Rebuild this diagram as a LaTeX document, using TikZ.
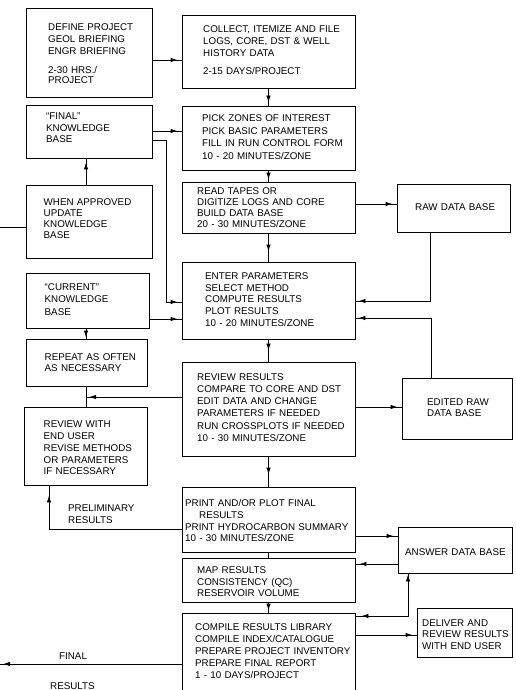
\documentclass[tikz,border=0pt]{standalone}
\usepackage{fontspec}
\setmainfont{Liberation Sans}
\usetikzlibrary{arrows.meta,decorations.markings}
\tikzset{
 box/.style={draw, line width=0.9pt, inner sep=0pt, rectangle},
 txt/.style={font=\fontsize{9.8}{#1}\selectfont, anchor=base west, inner sep=0pt, align=left, text width=200pt},
 txt/.default=12pt,
 con/.style={line width=0.9pt},
 tipat/.style={postaction={decorate}, decoration={markings, mark=at position #1 with {\arrow{Latex[length=7pt,width=4.5pt]}}}},
 tipat/.default=-4pt,
 tiptwo/.style={postaction={decorate}, decoration={markings,
   mark=at position 6pt with {\arrowreversed{Latex[length=7pt,width=4.5pt]}},
   mark=at position -1pt with {\arrow{Latex[length=7pt,width=4.5pt]}}}},
}
\begin{document}
\begin{tikzpicture}[x=1pt,y=-1pt]
\fill[white] (0,0) rectangle (516,690);
\useasboundingbox (0,0) rectangle (516,690);

% boxes
\node[box, minimum width=126pt, minimum height=89pt] (def) at (89,52.5) {};
\node[box, minimum width=173pt, minimum height=73pt] (col) at (268.5,51.5) {};
\node[box, minimum width=126pt, minimum height=53pt] (fkb) at (89,131.5) {};
\node[box, minimum width=173pt, minimum height=64pt] (pick) at (268.5,138) {};
\node[box, minimum width=126pt, minimum height=73pt] (appr) at (89,221.5) {};
\node[box, minimum width=173pt, minimum height=51pt] (read) at (268.5,207.5) {};
\node[box, minimum width=113pt, minimum height=48pt] (raw) at (453.5,208) {};
\node[box, minimum width=123pt, minimum height=55pt] (ckb) at (87.5,300.5) {};
\node[box, minimum width=173pt, minimum height=77pt] (enter) at (268.5,300.5) {};
\node[box, minimum width=121pt, minimum height=47pt] (rep) at (86.5,362.5) {};
\node[box, minimum width=173pt, minimum height=94pt] (rev) at (268.5,409) {};
\node[box, minimum width=110pt, minimum height=61pt] (edited) at (457,408.5) {};
\node[box, minimum width=123pt, minimum height=78pt] (reu) at (85.5,446) {};
\node[box, minimum width=173pt, minimum height=65pt] (print) at (268.5,519.5) {};
\node[box, minimum width=173pt, minimum height=44pt] (map) at (268.5,580) {};
\node[box, minimum width=114pt, minimum height=46pt] (ans) at (455,550) {};
\node[box, minimum width=173pt, minimum height=97pt] (comp) at (268.5,661.5) {};
\node[box, minimum width=95pt, minimum height=49pt] (del) at (464.5,632.5) {};

% texts
\node[txt] (tdef) at (48,31) {DEFINE PROJECT\\GEOL BRIEFING\\ENGR BRIEFING\\[7pt]2-30 HRS./\\[-2pt]PROJECT};
\node[txt] (tcol) at (203,32.5) {COLLECT, ITEMIZE AND FILE\\LOGS, CORE, DST \& WELL\\HISTORY DATA\\[6pt]2-15 DAYS/PROJECT};
\node[txt=11.3pt] (tfkb) at (46,120) {“FINAL”\\KNOWLEDGE\\BASE};
\node[txt=12.5pt] (tpick) at (202,121.6) {PICK ZONES OF INTEREST\\PICK BASIC PARAMETERS\\FILL IN RUN CONTROL FORM\\10 - 20 MINUTES/ZONE};
\node[txt=11.1pt] (tappr) at (43.5,205) {WHEN APPROVED\\UPDATE\\KNOWLEDGE\\BASE};
\node[txt=11.1pt] (tread) at (197,194) {READ TAPES OR\\DIGITIZE LOGS AND CORE\\BUILD DATA BASE\\20 - 30 MINUTES/ZONE};
\node[txt] (traw) at (415,210) {RAW DATA BASE};
\node[txt=11.7pt] (tenter) at (205,279.3) {ENTER PARAMETERS\\SELECT METHOD\\COMPUTE RESULTS\\PLOT RESULTS\\10 - 20 MINUTES/ZONE};
\node[txt=12.7pt] (tckb) at (44.5,290) {“CURRENT”\\KNOWLEDGE\\BASE};
\node[txt=11.6pt] (trep) at (44.5,360) {REPEAT AS OFTEN\\AS NECESSARY};
\node[txt=12.1pt] (trev) at (197,380.6) {REVIEW RESULTS\\COMPARE TO CORE AND DST\\EDIT DATA AND CHANGE\\PARAMETERS IF NEEDED\\RUN CROSSPLOTS IF NEEDED\\10 - 30 MINUTES/ZONE};
\node[txt=11.6pt] (tedit) at (427,405) {EDITED RAW\\DATA BASE};
\node[txt=11.8pt] (treu) at (43.5,427.6) {REVIEW WITH\\END USER\\REVISE METHODS\\OR PARAMETERS\\IF NECESSARY};
\node[txt=11.7pt] (tprint) at (185,506.6) {PRINT AND/OR PLOT FINAL\\\hspace*{14pt}RESULTS\\PRINT HYDROCARBON SUMMARY\\10 - 30 MINUTES/ZONE};
\node[txt=11.7pt] (tmap) at (197,573.3) {MAP RESULTS\\CONSISTENCY (QC)\\RESERVOIR VOLUME};
\node[txt] (tans) at (405,555) {ANSWER DATA BASE};
\node[txt=12pt] (tcomp) at (195,630) {COMPILE RESULTS LIBRARY\\COMPILE INDEX/CATALOGUE\\PREPARE PROJECT INVENTORY\\PREPARE FINAL REPORT\\1 - 10 DAYS/PROJECT};
\node[txt=11.2pt] (tdel) at (422,626.6) {DELIVER AND\\REVIEW RESULTS\\WITH END USER};
\node[txt=11.7pt] (tprel) at (68,511.5) {PRELIMINARY\\RESULTS};
\node[txt] (tfin1) at (59,659) {FINAL};
\node[txt] (tfin2) at (50,689) {RESULTS};

% free ends
\coordinate (lft) at (0,227);
\coordinate (fin) at (0,664);
\coordinate (j1) at (86,397);

% connectors
\draw[con,tipat] (def.east |- 0,60) -- (col.west |- 0,60);
\draw[con,tipat] (fkb.east |- 0,131) -- (pick.west |- 0,131);
\draw[con,tipat=-3pt] (col.south) -- (pick.north);
\draw[con,tipat=-2pt] (pick.south) -- (read.north);
\draw[con,tipat] (read.east |- 0,204) -- (raw.west |- 0,204);
\draw[con,tipat=-10pt] (read.south) -- (enter.north);
\draw[con,tipat=-3pt] (raw.south -| 430,0) |- (enter.east |- 0,301);
\draw[con,tipat=-3pt] (edited.north -| 431,0) |- (enter.east |- 0,318);
\draw[con,tipat=-11pt] (enter.south) -- (rev.north);
\draw[con,tipat] (rev.east |- 0,407) -- (edited.west |- 0,407);
\draw[con,tipat] (fkb.east |- 0,140) -| (166,302) -- (enter.west |- 0,302);
\draw[con,tipat] (ckb.east |- 0,319) -- (enter.west |- 0,319);
\draw[con,tipat=-1pt] (ckb.south -| 86,0) -- (rep.north -| 86,0);
\draw[con] (rep.south -| 86,0) -- (reu.north -| 86,0);
\draw[con,tipat=-3pt] (rev.west |- j1) -- (j1);
\draw[con,tipat=-4pt] (appr.north -| 86,0) -- (fkb.south -| 86,0);
\draw[con] (appr.west |- lft) -- (lft);
\draw[con,tipat=-10pt] (print.west |- 0,529) -| (reu.south -| 49,0);
\draw[con,tipat] (print.east |- 0,536) -- (ans.west |- 0,536);
\draw[con,tipat] (ans.west |- 0,564) -- (map.east |- 0,564);
\draw[con] (print.south) -- (map.north);
\draw[con,tipat=-2pt] (map.south) -- (comp.north);
\draw[con,tiptwo] (comp.east |- 0,616) -| (ans.south -| 408,0);
\draw[con,tipat] (comp.east |- 0,635) -- (del.west |- 0,635);
\draw[con,tipat=-3pt] (comp.west |- fin) -- (fin);
\draw[con,tipat=-12pt] (rev.south) -- (print.north);
\end{tikzpicture}
\end{document}
